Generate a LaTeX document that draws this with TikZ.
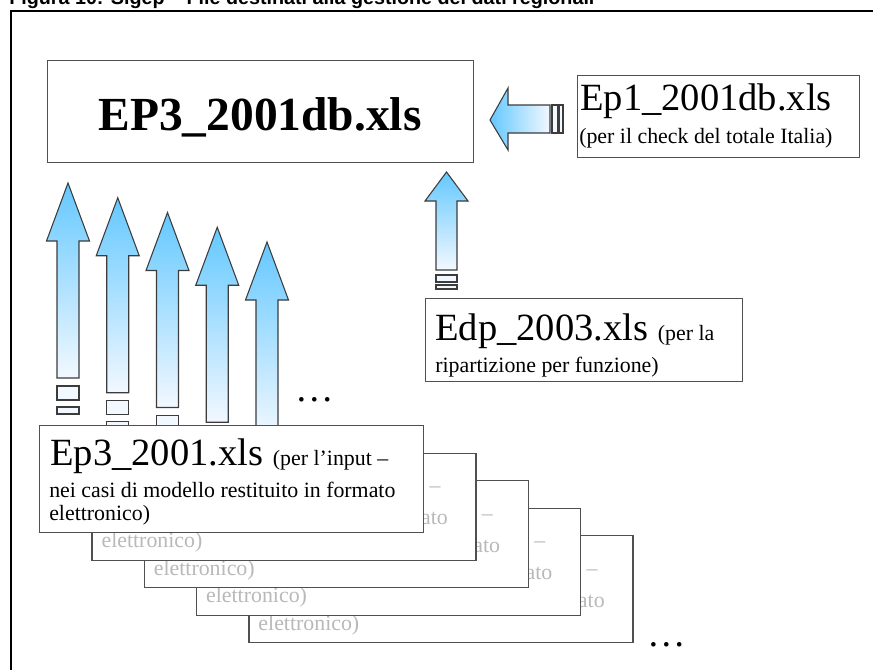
\documentclass[tikz,border=0pt]{standalone}
\usepackage{fontspec}
\setmainfont{Liberation Serif}
\newfontfamily\titlefont{Liberation Sans}
\newcommand\bigf{\fontsize{28.9}{30}\selectfont}
\newcommand\smallf{\fontsize{16.4}{18}\selectfont}
\newcommand\hugef{\fontsize{35.6}{40}\selectfont\bfseries}
\definecolor{boxgray}{RGB}{80,80,80}
\definecolor{arrgray}{RGB}{60,60,60}
\definecolor{ablue}{RGB}{100,200,255}
\definecolor{awhite}{RGB}{242,248,255}
\definecolor{ghost}{RGB}{185,185,185}
\tikzset{
  box/.style={draw=boxgray, line width=1pt, fill=white, inner sep=0pt, anchor=north west},
  txt/.style={inner sep=0pt, anchor=base west},
  arrowbody/.style={draw=arrgray, line width=0.8pt},
  vgrad/.style={arrowbody, top color=ablue, bottom color=awhite},
  hgrad/.style={arrowbody, left color=ablue, right color=awhite},
  barfill/.style={arrowbody, fill=awhite},
  frameline/.style={line width=1.9pt, black},
}
\begin{document}
\begin{tikzpicture}[x=0.75pt,y=-0.75pt]
\useasboundingbox (0,0) rectangle (873,669);
\clip (0,0) rectangle (873,669);
\fill[white] (0,0) rectangle (873,669);

% frame and title
\coordinate (fbl) at (11,680);
\coordinate (ftr) at (885,11);
\draw[frameline] (fbl) |- (ftr);
\node[txt, font=\titlefont\bfseries\fontsize{14.8}{16}\selectfont] (title) at (9,4.5)
  {Figura 10: Sigep – File destinati alla gestione dei dati regionali};

% main target box
\node[box, minimum width=319.5pt, minimum height=76.5pt] (ep3db) at (47,60) {};
\node[inner sep=0pt, anchor=base, font=\hugef] (ep3dbt) at (260,130) {EP3\_2001db.xls};

% Ep1 box
\node[box, minimum width=211.5pt, minimum height=61.5pt] (ep1) at (577,75) {};
\node[txt, font=\bigf] (ep1a) at (580,110) {Ep1\_2001db.xls};
\node[txt, font=\smallf] (ep1b) at (579,143) {(per il check del totale Italia)};

% horizontal arrow Ep1 -> EP3
\path[hgrad] (490,120) -- (508,88) -- (508,105) -- (550,105) -- (550,133) -- (508,133) -- (508,150) -- cycle;
\path[barfill] (552,105) rectangle (557.5,133);
\path[barfill] (559,105) rectangle (563,133);

% Edp arrow and box
\path[vgrad] (446.5,172) -- (468,201) -- (457,201) -- (457,270) -- (436,270) -- (436,201) -- (425,201) -- cycle;
\path[barfill] (436,275) rectangle (457,282);
\path[barfill] (436,285) rectangle (457,289);
\node[box, minimum width=237.75pt, minimum height=62.25pt] (edp) at (425,298) {};
\node[txt] (edpa) at (435,340) {{\bigf Edp\_2003.xls }{\smallf (per la}};
\node[txt, font=\smallf] (edpb) at (435,372) {ripartizione per funzione)};

% five upward arrows
\foreach \i in {0,...,4}{
  \begin{scope}[shift={(68+49.75*\i,183+14.75*\i)}]
    \path[vgrad] (0,0) -- (21.5,58) -- (11,58) -- (11,195) -- (-11,195) -- (-11,58) -- (-21.5,58) -- cycle;
    \path[barfill] (-11,203) rectangle (11,217);
    \path[barfill] (-11,224) rectangle (11,231);
  \end{scope}
}
\node[inner sep=0pt, anchor=base, font=\bigf] (dots1) at (315,401) {…};
\node[inner sep=0pt, anchor=base, font=\bigf] (dots2) at (667,646) {…};

% stacked input files, back to front
\foreach \i in {4,3,2,1,0}{
  \ifnum\i=0 \def\tc{black}\else\def\tc{ghost}\fi
  \node[box, minimum width=288pt, minimum height=80.25pt] (st\i) at (39+52.3*\i,425+27.5*\i) {};
  \node[txt, text=\tc] (sta\i) at ([shift={(11,40)}]st\i.north west) {{\bigf Ep3\_2001.xls }{\smallf (per l’input –}};
  \node[txt, text=\tc, font=\smallf] (stb\i) at ([shift={(10,72)}]st\i.north west) {nei casi di modello restituito in formato};
  \node[txt, text=\tc, font=\smallf] (stc\i) at ([shift={(10,95)}]st\i.north west) {elettronico)};
}
\end{tikzpicture}
\end{document}
